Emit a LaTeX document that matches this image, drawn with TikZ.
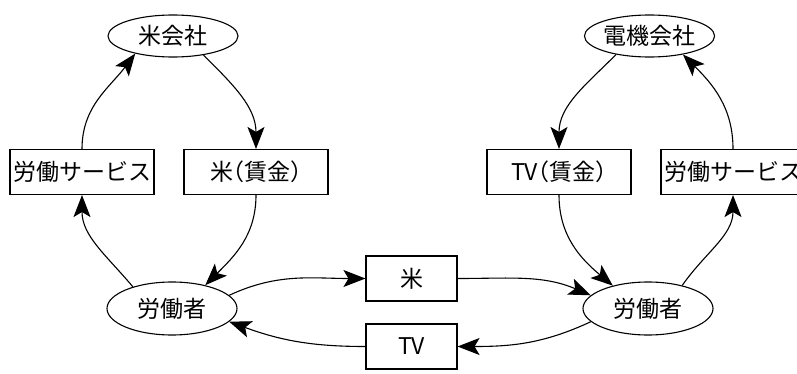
\documentclass[tikz,border=0pt]{standalone}
\usepackage{fontspec}
\newfontfamily\jpfont{Noto Sans CJK JP}
\newfontfamily\jpnarrow[RawFeature=+halt]{Noto Sans CJK JP}
\usetikzlibrary{arrows.meta,shapes.geometric}

\begin{document}
\begin{tikzpicture}[x=1pt,y=1pt,
	label text/.style={font=\jpfont\fontsize{23}{27}\selectfont},
	box/.style={label text,draw,line width=1.1pt,minimum width=144pt,minimum height=45pt,inner sep=0pt},
	wage/.style={box,font=\jpnarrow\fontsize{23}{27}\selectfont},
	goods/.style={box,minimum width=91pt},
	firm/.style={label text,draw,ellipse,line width=1.1pt,minimum width=130pt,minimum height=42pt,inner sep=0pt},
	worker/.style={firm,minimum height=53pt},
	flow/.style={-{Stealth[length=22pt,width=17pt,inset=5pt]},line width=1.1pt}]
	\useasboundingbox (0,0) rectangle (797,373);

	% rice side
	\node[firm] (riceco) at (173,337) {米会社};
	\node[box] (labourL) at (82,201) {労働サービス};
	\node[wage] (wageR) at (256,201) {米（賃金）};
	\node[worker] (workerL) at (172,64.5) {労働者};

	% electric side
	\node[firm] (elecco) at (649.5,337) {電機会社};
	\node[wage] (wageT) at (559,201) {TV（賃金）};
	\node[box] (labourR) at (733,201) {労働サービス};
	\node[worker] (workerR) at (648,64.5) {労働者};

	% goods between the workers
	\node[goods] (rice) at (411.5,94.5) {米};
	\node[goods] (tv) at (411.5,26.5) {TV};

	\path[flow] (labourL.north) edge[out=90,in=233] (riceco.205)
		(riceco.-32) edge[out=-45,in=90] (wageR.north)
		(wageR.south) edge[out=-90,in=45] (workerL.35)
		(workerL.151) edge[out=130,in=-90] (labourL.south)
		(workerL.13) edge[out=25,in=180] (rice.west)
		(tv.west) edge[out=180,in=-20] (workerL.-13);

	\path[flow] (elecco.209) edge[out=225,in=90] (wageT.north)
		(wageT.south) edge[out=-90,in=140] (workerR.147)
		(workerR.34) edge[out=55,in=-90] (labourR.south)
		(labourR.north) edge[out=90,in=-45] (elecco.-29)
		(rice.east) edge[out=0,in=157] (workerR.167)
		(workerR.193) edge[out=205,in=0] (tv.east);
\end{tikzpicture}
\end{document}
